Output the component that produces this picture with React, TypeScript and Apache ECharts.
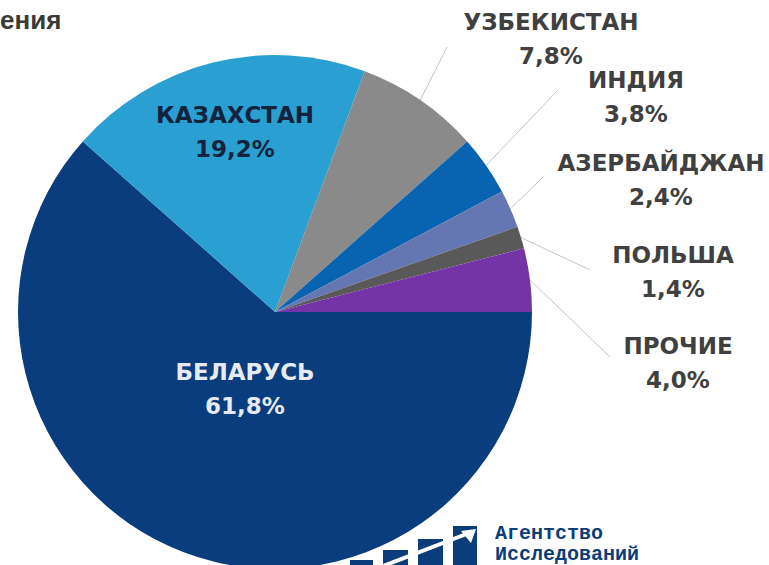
import React, { useEffect, useRef } from "react";
import * as echarts from "echarts";

const countries = ["Беларусь", "Казахстан", "Узбекистан", "Индия", "Азербайджан", "Польша", "Прочие"];
const shares = [61.8, 19.2, 7.8, 3.8, 2.4, 1.4, 4.0];
const sliceColors = ["#0a3d7d", "#2a9fd1", "#8a8a8a", "#0863b0", "#6577b3", "#595959", "#7434a6"];
const titleText = "ения";
const logoLines = ["Агентство", "Исследований"];

// label layout (positions only)
const labelPos: number[][] = [[245, 389], [235, 132], [551, 39], [636, 97], [661, 180], [673, 272], [678, 363]];
const lineEnds: (number[] | null)[] = [null, null, [447, 47], [558, 90], [543, 177], [590, 270], [610, 357]];
const labelColors = ["#e6ebf3", "#14233d", "#404040", "#404040", "#404040", "#404040", "#404040"];

export default function App() {
  const ref = useRef<HTMLDivElement>(null);
  useEffect(() => {
    document.body.style.margin = "0";
    const chart = echarts.init(ref.current!, null, { renderer: "svg" });
    const data = countries.map((n, i) => ({
      name: n,
      value: shares[i],
      itemStyle: { color: sliceColors[i] },
      label: {
        position: i < 2 ? "inside" : "outside",
        color: labelColors[i],
      },
      labelLine: { show: i >= 2 },
    }));
    const logoColor = "#0b3d7b";
    const monoFont = "'Liberation Mono', 'DejaVu Sans Mono', 'Courier New', monospace";
    chart.setOption({
      animation: false,
      backgroundColor: "#ffffff",
      series: [
        {
          type: "pie",
          center: [275, 312],
          radius: 257,
          startAngle: 0,
          clockwise: true,
          avoidLabelOverlap: false,
          silent: true,
          itemStyle: { borderWidth: 0 },
          label: {
            show: true,
            fontFamily: "DejaVu Sans",
            fontWeight: "bold",
            fontSize: 23,
            lineHeight: 34,
            align: "center",
            formatter: (p: any) =>
              p.name.toUpperCase() + "\n" + Number(p.value).toFixed(1).replace(".", ",") + "%",
          },
          labelLine: {
            show: true,
            lineStyle: { color: "#c4c4c4", width: 1 },
          },
          labelLayout: (params: any) => {
            const i = params.dataIndex;
            const pos = labelPos[i];
            const res: any = { x: pos[0], y: pos[1], align: "center", verticalAlign: "middle" };
            const end = lineEnds[i];
            if (end && params.labelLinePoints) {
              const s = params.labelLinePoints[0];
              res.labelLinePoints = [s, end, end];
            }
            return res;
          },
          data,
        },
      ],
      graphic: [
        {
          type: "text",
          left: 0,
          top: 7,
          style: {
            text: titleText,
            fontFamily: "Liberation Sans",
            fontWeight: "bold",
            fontSize: 26,
            fill: "#3a3a3a",
          },
        },
        { type: "rect", shape: { x: 350, y: 560, width: 23, height: 12 }, style: { fill: logoColor } },
        { type: "rect", shape: { x: 383, y: 550, width: 25, height: 22 }, style: { fill: logoColor } },
        { type: "rect", shape: { x: 418, y: 539, width: 25, height: 33 }, style: { fill: logoColor } },
        { type: "rect", shape: { x: 453, y: 526, width: 24, height: 46 }, style: { fill: logoColor } },
        {
          type: "line",
          shape: { x1: 352, y1: 578, x2: 469, y2: 533 },
          style: { stroke: "#ffffff", lineWidth: 4 },
        },
        {
          type: "polygon",
          shape: { points: [[476, 529], [461, 531], [471, 543]] },
          style: { fill: "#ffffff" },
        },
        {
          type: "text",
          x: 495,
          y: 533,
          style: {
            text: logoLines[0],
            fontFamily: monoFont,
            fontWeight: "bold",
            fontSize: 20,
            fill: logoColor,
            verticalAlign: "middle",
          },
        },
        {
          type: "text",
          x: 495,
          y: 554,
          style: {
            text: logoLines[1],
            fontFamily: monoFont,
            fontWeight: "bold",
            fontSize: 20,
            fill: logoColor,
            verticalAlign: "middle",
          },
        },
      ],
    });
    return () => chart.dispose();
  }, []);
  return <div ref={ref} style={{ width: 769, height: 565 }} />;
}
